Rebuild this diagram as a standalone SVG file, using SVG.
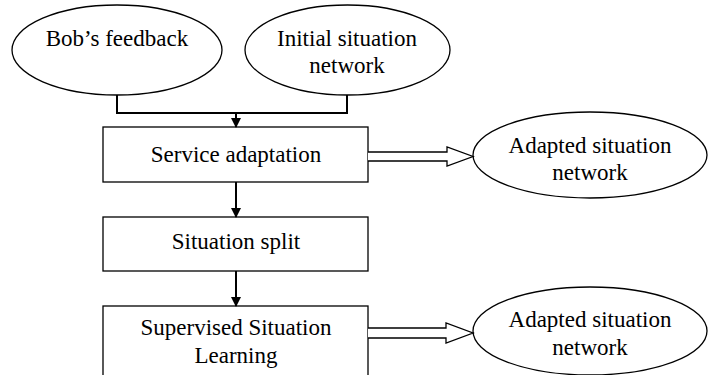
<svg xmlns="http://www.w3.org/2000/svg" width="710" height="375" viewBox="0 0 710 375">
<defs>
<style>
.node{fill:#fff;stroke:#000;stroke-width:1.3}
.t{font-family:'Liberation Serif',Tinos,'Times New Roman','DejaVu Serif',serif;font-size:23px;fill:#000;text-anchor:middle}
.ln{fill:none;stroke:#000;stroke-width:2}
.blk{fill:#fff;stroke:#000;stroke-width:1.3;stroke-linejoin:miter}
</style>
<marker id="ah" markerWidth="10" markerHeight="10" refX="9" refY="5" orient="auto" markerUnits="userSpaceOnUse">
<path d="M0,0 L10,5 L0,10 Z" fill="#000"/>
</marker>
</defs>
<rect width="710" height="375" fill="#fff"/>
<g id="bob">
<ellipse class="node" cx="117" cy="50" rx="105" ry="45"/>
<text class="t" x="117" y="46" font-family="Liberation Serif, serif">Bob’s feedback</text>
</g>
<g id="initial">
<ellipse class="node" cx="347.5" cy="50" rx="102.5" ry="45"/>
<text class="t" x="347" y="46">Initial situation</text>
<text class="t" x="347" y="73">network</text>
</g>
<g id="service">
<rect class="node" x="103" y="127" width="265" height="55"/>
<text class="t" x="236" y="162">Service adaptation</text>
</g>
<g id="split">
<rect class="node" x="103" y="217" width="265" height="54"/>
<text class="t" x="236" y="249">Situation split</text>
</g>
<g id="supervised">
<rect class="node" x="103" y="306" width="265" height="75"/>
<text class="t" x="236" y="335">Supervised Situation</text>
<text class="t" x="236" y="363">Learning</text>
</g>
<g id="adapted1">
<ellipse class="node" cx="590" cy="155" rx="117" ry="43"/>
<text class="t" x="590" y="153">Adapted situation</text>
<text class="t" x="590" y="180">network</text>
</g>
<g id="adapted2">
<ellipse class="node" cx="590" cy="331" rx="117" ry="44"/>
<text class="t" x="590" y="327">Adapted situation</text>
<text class="t" x="590" y="355">network</text>
</g>
<g id="connectors">
<path class="ln" d="M117,95 V113 H347 V95"/>
<line class="ln" x1="236" y1="113" x2="236" y2="127" marker-end="url(#ah)"/>
<line class="ln" x1="236" y1="182" x2="236" y2="217" marker-end="url(#ah)"/>
<line class="ln" x1="236" y1="271" x2="236" y2="306" marker-end="url(#ah)"/>
<path class="blk" d="M368,152 H447 V147 L473,156.5 L447,166 V161 H368"/>
<path class="blk" d="M368,328 H446 V323 L473,333 L446,343 V338 H368"/>
</g>
</svg>
